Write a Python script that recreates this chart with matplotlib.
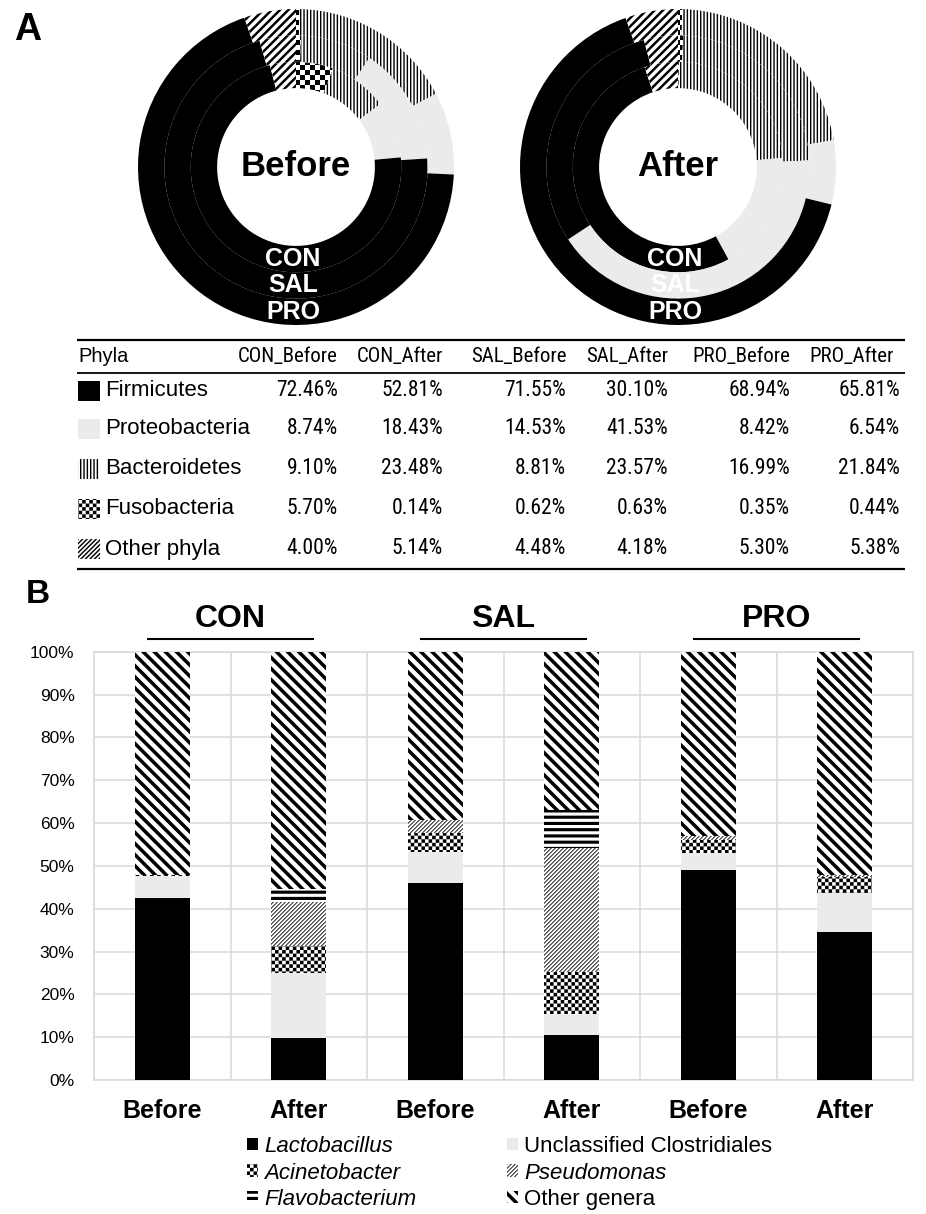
import warnings
warnings.filterwarnings('ignore')
import numpy as np
import matplotlib
matplotlib.use('Agg')
import matplotlib.pyplot as plt
import matplotlib.hatch as mhatch
import matplotlib.patches as mpatches
from matplotlib.path import Path
from matplotlib import font_manager as fm

# ---------------- data ----------------
groups = ['CON', 'SAL', 'PRO']
times = ['Before', 'After']
samples = ['CON_Before', 'CON_After', 'SAL_Before', 'SAL_After', 'PRO_Before', 'PRO_After']
phyla = ['Firmicutes', 'Proteobacteria', 'Bacteroidetes', 'Fusobacteria', 'Other phyla']
firmicutes = [72.46, 52.81, 71.55, 30.10, 68.94, 65.81]
proteobacteria = [8.74, 18.43, 14.53, 41.53, 8.42, 6.54]
bacteroidetes = [9.10, 23.48, 8.81, 23.57, 16.99, 21.84]
fusobacteria = [5.70, 0.14, 0.62, 0.63, 0.35, 0.44]
other_phyla = [4.00, 5.14, 4.48, 4.18, 5.30, 5.38]

bar_labels = ['Before', 'After', 'Before', 'After', 'Before', 'After']
genera = ['Lactobacillus', 'Unclassified Clostridiales', 'Acinetobacter',
          'Pseudomonas', 'Flavobacterium', 'Other genera']
lactobacillus = [42.6, 9.9, 46.1, 10.4, 49.0, 34.6]
unclassified = [5.0, 15.0, 7.2, 4.9, 3.9, 9.0]
acinetobacter = [0.3, 6.4, 4.4, 9.8, 3.1, 3.9]
pseudomonas = [0.0, 10.3, 3.0, 29.1, 1.0, 0.4]
flavobacterium = [0.0, 2.9, 0.0, 8.8, 0.0, 0.0]
other_genera = [52.1, 55.5, 39.3, 37.0, 43.0, 52.1]

# ---------------- custom filled hatches ----------------
class _Filled(mhatch.HatchPatternBase):
    key = None
    def __init__(self, hatch, density):
        self.polys = self.make() if (hatch and self.key in hatch) else []
        self.num_vertices = 5 * len(self.polys)
    def set_vertices_and_codes(self, vertices, codes):
        for i, p in enumerate(self.polys):
            vertices[5*i:5*i+4] = p
            vertices[5*i+4] = p[0]
            codes[5*i] = Path.MOVETO
            codes[5*i+1:5*i+4] = Path.LINETO
            codes[5*i+4] = Path.CLOSEPOLY

def _vert(n, f):
    return [[(k/n, -0.05), ((k+f)/n, -0.05), ((k+f)/n, 1.05), (k/n, 1.05)] for k in range(n)]
def _horiz(n, f):
    return [[(-0.05, k/n), (1.05, k/n), (1.05, (k+f)/n), (-0.05, (k+f)/n)] for k in range(n)]
def _ne(n, f):
    out = []
    for k in range(-n-1, n+1):
        c0, c1 = k/n, (k+f)/n
        out.append([(-1, -1+c0), (2, 2+c0), (2, 2+c1), (-1, -1+c1)])
    return out
def _nw(n, f):
    out = []
    for k in range(-1, 2*n+1):
        c0, c1 = k/n, (k+f)/n
        out.append([(-1, 1+c0), (2, -2+c0), (2, -2+c1), (-1, 1+c1)])
    return out
def _checker(n):
    out = []
    for i in range(n):
        for j in range(n):
            if (i+j) % 2 == 0:
                out.append([(i/n, j/n), ((i+1)/n, j/n), ((i+1)/n, (j+1)/n), (i/n, (j+1)/n)])
    return out

def _mk(key, fn):
    return type('H' + key, (_Filled,), {'key': key, 'make': staticmethod(fn)})

mhatch._hatch_types.extend([
    _mk('V', lambda: _vert(30, 0.42)),      # Bacteroidetes
    _mk('F', lambda: _ne(12, 0.42)),        # other phyla (donut)
    _mk('E', lambda: _ne(22, 0.45)),        # other phyla (icon)
    _mk('D', lambda: _checker(20)),         # fusobacteria donut
    _mk('C', lambda: _checker(28)),         # checker small
    _mk('P', lambda: _ne(25, 0.3)),         # pseudomonas
    _mk('H', lambda: _horiz(16, 0.5)),      # flavobacterium
    _mk('G', lambda: _nw(9, 0.45)),         # other genera
])

# ---------------- fonts ----------------
def has_font(name):
    try:
        fm.findfont(fm.FontProperties(family=name), fallback_to_default=False)
        return True
    except Exception:
        return False

plt.rcParams['font.family'] = ['Liberation Sans', 'DejaVu Sans']
plt.rcParams['hatch.linewidth'] = 0.0
narrow_fam = None
for cand in ['Liberation Sans Narrow', 'Arial Narrow', 'Roboto Condensed', 'Open Sans Condensed']:
    if has_font(cand):
        narrow_fam = cand
        break
if narrow_fam:
    narrow = dict(family=[narrow_fam, 'Liberation Sans'], fontsize=15.5)
    narrow_head = dict(family=[narrow_fam, 'Liberation Sans'], fontsize=15.0)
else:
    narrow = dict(family=['Liberation Sans', 'DejaVu Sans'], fontsize=13.2)
    narrow_head = dict(family=['Liberation Sans', 'DejaVu Sans'], fontsize=13.4)

W, H = 926, 1214
fig = plt.figure(figsize=(W/100, H/100), dpi=100, facecolor='white')

def px_axes(x0, y0, w, h, **kw):
    return fig.add_axes([x0/W, 1-(y0+h)/H, w/W, h/H], **kw)

# ---------------- table (pixel overlay) ----------------
axt = fig.add_axes([0, 0, 1, 1])
axt.set_xlim(0, W); axt.set_ylim(H, 0); axt.axis('off')

phyla_vals = {'Firmicutes': firmicutes, 'Proteobacteria': proteobacteria,
              'Bacteroidetes': bacteroidetes, 'Fusobacteria': fusobacteria,
              'Other phyla': other_phyla}
phyla_style = {'Firmicutes': ('black', None), 'Proteobacteria': ('#ebebeb', None),
               'Bacteroidetes': ('white', 'V'), 'Fusobacteria': ('white', 'D'),
               'Other phyla': ('white', 'F')}
icon_hatch = {'Firmicutes': None, 'Proteobacteria': None, 'Bacteroidetes': 'V',
              'Fusobacteria': 'C', 'Other phyla': 'E'}

col_right = [338, 443, 566, 668, 790, 900]
head_right = [338, 443, 567, 668, 790, 894]
row_y = [391, 429, 469, 509, 549]
head_y = 357

axt.plot([77, 905], [340, 340], color='black', lw=1.6, solid_capstyle='butt')
axt.plot([77, 905], [373, 373], color='black', lw=1.3, solid_capstyle='butt')
axt.plot([77, 905], [569, 569], color='black', lw=1.6, solid_capstyle='butt')
axt.text(78, head_y, 'Phyla', ha='left', va='center', fontsize=14.5)
for j, s in enumerate(samples):
    axt.text(head_right[j], head_y, s, ha='right', va='center', **narrow_head)
for i, p in enumerate(phyla):
    y = row_y[i]
    fc = phyla_style[p][0]
    axt.add_patch(mpatches.Rectangle((78, y-10), 22, 20, facecolor=fc,
                                     hatch=icon_hatch[p], edgecolor='black', lw=0))
    axt.text(105, y, p, ha='left', va='center', fontsize=16)
    for j in range(len(samples)):
        axt.text(col_right[j], y, f'{phyla_vals[p][j]:.2f}%', ha='right', va='center', **narrow)

# ---------------- donuts ----------------
ring_order = ['Fusobacteria', 'Bacteroidetes', 'Proteobacteria', 'Firmicutes', 'Other phyla']
for time, cx in [('Before', 296), ('After', 678)]:
    ax = px_axes(cx-165, 167-165, 330, 330)
    for ri, grp in enumerate(groups):
        idx = samples.index(f'{grp}_{time}')
        vals = [phyla_vals[p][idx] for p in ring_order]
        r = 105.3 + 26.35*ri
        ax.pie(vals, radius=r, startangle=90, counterclock=False,
               colors=[phyla_style[p][0] for p in ring_order],
               hatch=[phyla_style[p][1] for p in ring_order],
               wedgeprops=dict(width=26.4, linewidth=0, edgecolor='black'))
    ax.set_xlim(-165, 165); ax.set_ylim(-165, 165)
    ax.set_aspect('equal'); ax.axis('off')
    ax.text(0, 1, time, ha='center', va='center', fontsize=25, fontweight='bold')
    for ri, grp in enumerate(groups):
        ax.text(-3, -(92 + 26.35*ri), grp, ha='center', va='center', color='white',
                fontsize=18, fontweight='bold')

# ---------------- bar chart ----------------
axb = px_axes(94, 651.7, 819, 428.3)
series = [lactobacillus, unclassified, acinetobacter, pseudomonas, flavobacterium, other_genera]
gstyle = [('black', None), ('#ebebeb', None), ('white', 'C'), ('white', 'P'),
          ('white', 'H'), ('white', 'G')]
x = np.arange(len(bar_labels))
bottom = np.zeros(len(bar_labels))
handles = []
for name, vals, (fc, h) in zip(genera, series, gstyle):
    axb.bar(x, vals, 0.4, bottom=bottom, facecolor=fc, hatch=h, edgecolor='black',
            linewidth=0, zorder=3)
    bottom += np.array(vals)
    handles.append(mpatches.Patch(facecolor=fc, hatch=h, edgecolor='black', linewidth=0, label=name))

axb.set_xlim(-0.5, len(bar_labels)-0.5)
axb.set_ylim(0, 100)
axb.set_yticks(np.arange(0, 101, 10))
axb.set_yticklabels([f'{v}%' for v in range(0, 101, 10)], fontsize=12.5)
axb.set_xticks(x)
axb.set_xticklabels(bar_labels, fontsize=18, fontweight='bold')
axb.set_xticks(np.arange(-0.5, len(bar_labels), 1), minor=True)
axb.tick_params(axis='both', which='both', length=0)
axb.tick_params(axis='y', pad=14)
axb.tick_params(axis='x', pad=14)
axb.yaxis.grid(True, color='#d9d9d9', lw=1.1, zorder=0)
axb.xaxis.grid(True, which='minor', color='#d9d9d9', lw=1.1, zorder=0)
axb.xaxis.grid(False, which='major')
for s in axb.spines.values():
    s.set_color('#d9d9d9'); s.set_linewidth(1.1)
axb.set_axisbelow(True)

for gi, g in enumerate(groups):
    c = 2*gi + 0.5
    axb.text(c, 107.6, g, ha='center', va='center', fontsize=23, fontweight='bold', clip_on=False)
    axb.plot([c-0.61, c+0.61], [102.97, 102.97], color='black', lw=1.5, clip_on=False,
             solid_capstyle='butt')

italic = {'Lactobacillus': True, 'Unclassified Clostridiales': False, 'Acinetobacter': True,
          'Pseudomonas': True, 'Flavobacterium': True, 'Other genera': False}
left_h = [handles[0], handles[2], handles[4]]
right_h = [handles[1], handles[3], handles[5]]
for hs, x0 in [(left_h, 247), (right_h, 507)]:
    leg = fig.legend(handles=hs, loc='upper left', bbox_to_anchor=(x0/W, 1-1136/H),
                     frameon=False, fontsize=16, handlelength=0.48, handleheight=0.48,
                     handletextpad=0.3, labelspacing=0.25, borderpad=0, borderaxespad=0)
    for t in leg.get_texts():
        if italic[t.get_text()]:
            t.set_fontstyle('italic')

fig.text(28/W, 1-30/H, 'A', ha='center', va='center', fontsize=27, fontweight='bold')
fig.text(38/W, 1-595/H, 'B', ha='center', va='center', fontsize=24, fontweight='bold')

fig.savefig('out.png', dpi=100, facecolor='white')
